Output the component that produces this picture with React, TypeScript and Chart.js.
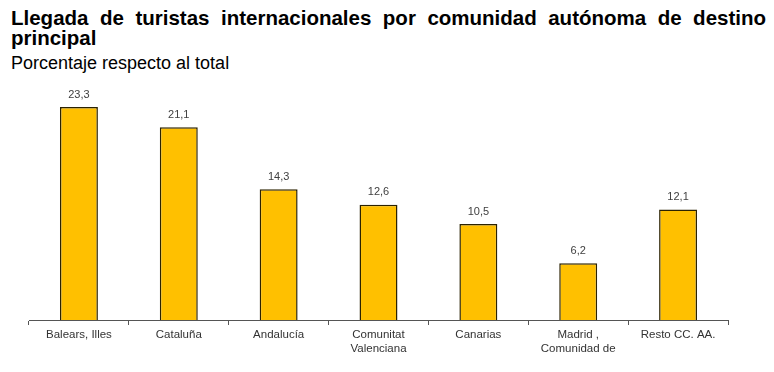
import React, { useEffect, useRef } from "react";
import { Chart, registerables } from "chart.js";

Chart.register(...registerables);

const categories: (string | string[])[] = [
  "Balears, Illes",
  "Cataluña",
  "Andalucía",
  ["Comunitat", "Valenciana"],
  "Canarias",
  ["Madrid ,", "Comunidad de"],
  "Resto CC. AA.",
];
const values: number[] = [23.3, 21.1, 14.3, 12.6, 10.5, 6.2, 12.1];
const titleText = "Llegada de turistas internacionales por comunidad autónoma de destino principal";
const subtitleText = "Porcentaje respecto al total";

const FONT = "'Liberation Sans', Arial, sans-serif";

const valueLabels = {
  id: "valueLabels",
  afterDatasetsDraw(chart: any) {
    const ctx = chart.ctx;
    const meta = chart.getDatasetMeta(0);
    ctx.save();
    ctx.font = `11px ${FONT}`;
    ctx.fillStyle = "#404040";
    ctx.textAlign = "center";
    ctx.textBaseline = "bottom";
    meta.data.forEach((bar: any, i: number) => {
      const v = values[i].toFixed(1).replace(".", ",");
      ctx.fillText(v, bar.x, bar.y - 7);
    });
    ctx.restore();
  },
};

export default function App() {
  const ref = useRef<HTMLCanvasElement | null>(null);
  useEffect(() => {
    if (!ref.current) return;
    const chart = new Chart(ref.current, {
      type: "bar",
      data: {
        labels: categories,
        datasets: [
          {
            data: values,
            backgroundColor: "#FFC000",
            borderColor: "#2b2200",
            borderWidth: 1.5,
            categoryPercentage: 1,
            barPercentage: 0.38,
          },
        ],
      },
      options: {
        animation: false,
        responsive: false,
        maintainAspectRatio: false,
        layout: { padding: { left: 29, right: 46, top: 16.5, bottom: 0 } },
        plugins: {
          legend: { display: false },
          title: { display: false },
          tooltip: { enabled: false },
        },
        scales: {
          x: {
            offset: true,
            grid: {
              display: true,
              drawOnChartArea: false,
              offset: true,
              tickLength: 5,
              color: "#555555",
            },
            border: { display: true, color: "#555555", width: 1 },
            ticks: {
              font: { family: FONT, size: 11.5 },
              color: "#333333",
              padding: 3,
              maxRotation: 0,
              autoSkip: false,
            },
            afterFit: (s: any) => {
              s.height = 52;
            },
          },
          y: {
            display: false,
            min: 0,
            max: 25,
          },
        },
      },
      plugins: [valueLabels],
    });
    return () => chart.destroy();
  }, []);

  return (
    <div style={{ position: "absolute", left: 0, top: 0, width: 774, height: 372, background: "#fff", overflow: "hidden" }}>
      <div
        style={{
          position: "absolute",
          left: 11,
          top: 8,
          width: 755,
          fontFamily: FONT,
          fontWeight: "bold",
          fontSize: 20.5,
          lineHeight: "20px",
          textAlign: "justify",
          textAlignLast: "left",
          color: "#000",
        }}
      >
        {titleText}
      </div>
      <div
        style={{
          position: "absolute",
          left: 11,
          top: 53,
          fontFamily: FONT,
          fontSize: 18,
          lineHeight: "20px",
          color: "#000",
          whiteSpace: "nowrap",
        }}
      >
        {subtitleText}
      </div>
      <canvas ref={ref} width={774} height={297} style={{ position: "absolute", left: 0, top: 75, width: 774, height: 297 }} />
    </div>
  );
}
